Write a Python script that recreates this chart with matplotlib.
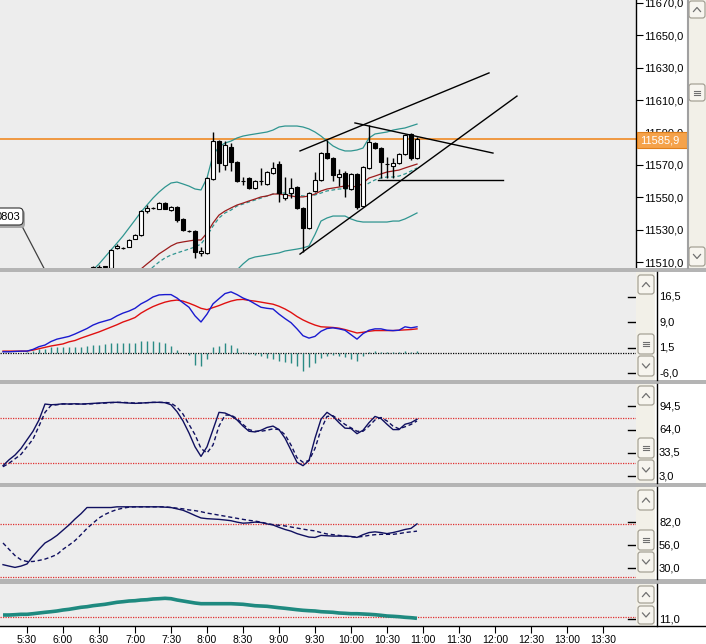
import numpy as np
import matplotlib
matplotlib.use("Agg")
import matplotlib.pyplot as plt
from matplotlib.patches import Rectangle, FancyBboxPatch
from matplotlib.transforms import blended_transform_factory

plt.rcParams["font.family"] = ["Liberation Sans", "DejaVu Sans"]

W, H = 706, 644

# 5-minute bars, minutes after midnight (first bar 5:10, last 10:55)
bar_times = np.arange(310, 656, 5)
candle_times = bar_times[15:]

# candles (6:25 .. 10:55)
opens = np.array([
    11505.7, 11506.0, 11507.0, 11506.3, 11518.7, 11518.7, 11519.3, 11524.2, 11526.7, 11541.5,
    11543.4, 11542.8, 11546.5, 11542.1, 11544.0, 11536.6, 11529.4, 11529.2, 11515.6, 11515.6,
    11561.3, 11584.8, 11570.0, 11581.1, 11571.8, 11560.1, 11561.9, 11555.7, 11560.1, 11558.2,
    11565.0, 11570.6, 11549.5, 11552.6, 11556.4, 11543.4, 11531.0, 11553.9, 11560.7, 11577.3,
    11574.3, 11562.5, 11565.0, 11555.1, 11564.4, 11544.6, 11568.1, 11583.5, 11580.4, 11570.6,
    11569.3, 11571.2, 11576.7, 11589.1, 11574.3])
closes = np.array([
    11506.9, 11507.2, 11507.1, 11517.5, 11520.0, 11518.9, 11523.5, 11526.7, 11541.5, 11543.4,
    11543.5, 11546.5, 11542.8, 11544.0, 11536.0, 11529.8, 11529.2, 11516.2, 11516.9, 11561.9,
    11584.8, 11571.2, 11582.3, 11571.8, 11560.1, 11560.2, 11555.7, 11560.1, 11560.2, 11565.6,
    11568.1, 11552.6, 11552.0, 11555.7, 11543.4, 11531.0, 11552.6, 11560.7, 11577.3, 11574.3,
    11563.8, 11564.4, 11555.7, 11564.4, 11544.0, 11568.7, 11584.1, 11580.4, 11571.8, 11570.5,
    11571.2, 11576.7, 11588.5, 11574.3, 11585.9])
highs = np.array([
    11507.5, 11508.0, 11507.8, 11518.0, 11521.0, 11519.3, 11524.0, 11527.5, 11542.0, 11545.0,
    11544.0, 11547.0, 11547.0, 11544.5, 11544.5, 11537.0, 11529.8, 11529.5, 11519.0, 11562.5,
    11590.3, 11585.4, 11585.0, 11583.5, 11572.5, 11562.5, 11562.5, 11560.7, 11568.1, 11566.2,
    11571.8, 11572.4, 11562.5, 11562.0, 11557.0, 11544.0, 11553.2, 11565.6, 11578.0, 11585.4,
    11575.0, 11567.5, 11566.0, 11565.0, 11565.0, 11569.3, 11594.6, 11584.1, 11581.0, 11574.9,
    11574.0, 11577.5, 11589.1, 11589.5, 11587.5])
lows = np.array([
    11505.0, 11505.0, 11506.0, 11505.5, 11518.0, 11518.2, 11519.0, 11524.0, 11526.0, 11540.5,
    11543.0, 11542.5, 11542.5, 11541.5, 11534.5, 11529.0, 11528.8, 11512.5, 11513.5, 11515.0,
    11560.5, 11565.6, 11567.0, 11566.0, 11559.5, 11557.6, 11555.0, 11555.1, 11557.6, 11557.6,
    11564.5, 11547.1, 11548.0, 11549.5, 11542.8, 11516.2, 11530.4, 11553.0, 11560.0, 11573.6,
    11560.0, 11557.0, 11550.2, 11554.5, 11542.8, 11544.0, 11567.5, 11579.8, 11562.0, 11561.9,
    11562.0, 11570.6, 11576.0, 11573.0, 11573.6])

# Bollinger bands and moving average on the price panel
upper_band = [
    11505.1, 11508.8, 11513.1, 11517.4, 11521.7, 11526.1, 11531.0, 11535.9, 11540.9, 11545.2,
    11549.5, 11553.2, 11556.3, 11558.8, 11559.4, 11558.2, 11556.9, 11555.1, 11554.5, 11561.9,
    11576.1, 11581.1, 11583.5, 11584.7, 11586.6, 11587.8, 11588.5, 11589.1, 11589.7, 11590.3,
    11591.5, 11593.4, 11594.0, 11594.0, 11594.0, 11593.4, 11592.2, 11590.3, 11587.8, 11584.7,
    11581.7, 11579.8, 11578.6, 11578.6, 11579.2, 11580.4, 11586.6, 11589.1, 11589.7, 11590.3,
    11591.5, 11592.2, 11592.8, 11594.0, 11595.2]
lower_band = [
    11501.4, 11505.1, 11508.8, 11511.9, 11513.1, 11513.7, 11514.3, 11515.0, 11515.6, 11516.8,
    11517.4, 11518.0, 11518.7, 11519.9, 11527.0, 11535.3, 11537.2, 11538.4, 11538.4, 11538.4,
    11536.6, 11535.3, 11534.7, 11534.7, 11534.7, 11534.7, 11534.7, 11535.3, 11535.3, 11536.6,
    11538.4, 11540.3]
middle_band = [
    11503.8, 11506.9, 11510.0, 11512.5, 11514.3, 11515.6, 11516.8, 11518.0, 11519.3, 11521.1,
    11526.1, 11532.2, 11537.2, 11540.3, 11542.1, 11544.6, 11545.8, 11547.1, 11548.3, 11549.5,
    11550.8, 11552.0, 11552.6, 11552.6, 11552.0, 11551.4, 11550.8, 11550.8, 11551.4, 11552.6,
    11553.9, 11554.5, 11555.1, 11555.1, 11555.1, 11555.1, 11556.3, 11558.8, 11560.7, 11561.9,
    11562.5, 11562.5, 11563.1, 11564.4, 11566.2, 11568.1]
moving_avg = [
    11502.6, 11505.7, 11508.8, 11511.8, 11515.0, 11517.4, 11519.9, 11521.7, 11522.4, 11523.0,
    11523.6, 11523.6, 11527.9, 11534.1, 11539.0, 11541.5, 11543.4, 11545.2, 11546.4, 11547.7,
    11548.9, 11550.2, 11550.8, 11552.0, 11552.0, 11551.4, 11550.8, 11550.2, 11550.2, 11550.8,
    11552.0, 11553.9, 11555.1, 11555.7, 11556.3, 11557.0, 11557.0, 11556.3, 11558.8, 11561.9,
    11563.1, 11564.4, 11565.6, 11566.2, 11566.8, 11568.1, 11569.3, 11570.5]

last_price = 11585.9

# hand drawn trend lines: (minutes, price) pairs
trend_lines = [
    ((557.5, 11578.6), (715.0, 11626.8)),
    ((557.5, 11514.9), (738.3, 11612.5)),
    ((603.3, 11595.9), (718.3, 11577.3)),
    ((622.5, 11560.7), (726.7, 11560.7)),
]

# MACD
macd_line = [
    0.28, 0.28, 0.38, 0.48, 0.48, 0.99, 1.80, 2.28, 3.32, 4.03,
    4.43, 4.84, 5.55, 6.36, 7.17, 8.19, 8.90, 9.40, 9.91, 10.92,
    11.73, 12.34, 13.15, 14.47, 15.38, 16.50, 17.11, 17.21, 17.21, 16.20,
    14.78, 13.46, 10.92, 9.10, 11.43, 14.47, 16.0, 17.51, 18.02, 17.21,
    16.20, 15.49, 14.47, 13.46, 13.15, 12.95, 11.43, 10.11, 8.90, 7.07,
    5.04, 4.33, 4.84, 6.36, 7.17, 7.37, 7.07, 6.66, 5.35, 4.03,
    5.65, 6.66, 7.07, 7.07, 6.66, 6.56, 6.66, 7.68, 7.37, 7.68]
macd_signal = [
    0.48, 0.48, 0.48, 0.48, 0.48, 0.78, 1.19, 1.59, 2.00, 2.30,
    2.61, 3.22, 3.62, 4.33, 4.94, 5.55, 6.16, 6.87, 7.58, 8.29,
    9.10, 9.71, 10.42, 11.73, 12.75, 13.66, 14.37, 14.98, 15.38, 15.59,
    15.28, 14.67, 13.96, 13.15, 12.75, 13.36, 13.96, 14.67, 15.28, 15.69,
    15.79, 15.49, 15.28, 14.98, 14.67, 14.37, 13.76, 12.95, 11.94, 10.72,
    9.71, 8.89, 8.19, 7.68, 7.58, 7.48, 7.27, 6.87, 6.36, 5.85,
    6.06, 6.36, 6.56, 6.56, 6.56, 6.56, 6.66, 6.77, 6.87, 7.07]
macd_hist = [
    0, 0, 0, 0, 0.27, 0.58, 0.98, 1.19, 1.59, 1.59,
    1.79, 1.79, 1.79, 1.79, 2.0, 2.3, 2.3, 2.6, 3.0, 3.0,
    3.0, 3.0, 3.0, 3.5, 3.5, 3.5, 3.3, 2.8, 2.0, 0.8,
    -0.2, -0.7, -3.6, -3.8, -1.8, 1.6, 2.0, 2.8, 2.3, 1.3,
    0.3, -0.5, -0.7, -1.0, -1.5, -1.8, -2.5, -2.8, -3.1, -3.8,
    -5.3, -4.3, -3.1, -1.5, -1.0, -0.7, -1.0, -1.2, -1.8, -2.3,
    -1.0, 0.3, 0.6, 0.3, 0.1, 0.2, 0.1, 0.6, 0.2, 0.5]

# fast stochastic
stoch_k = [
    16.6, 24.3, 30.6, 39.2, 50.6, 61.9, 76.8, 97.7, 96.8, 97.2,
    98.1, 97.7, 98.1, 97.7, 98.1, 98.6, 99.0, 99.5, 99.9, 100.0,
    99.5, 99.0, 98.6, 99.0, 99.5, 99.9, 100.0, 99.5, 96.8, 87.7,
    75.5, 59.6, 41.5, 28.8, 41.5, 64.1, 86.8, 85.9, 82.3, 76.8,
    68.7, 61.9, 61.0, 63.2, 66.9, 68.7, 64.1, 52.8, 37.0, 21.1,
    16.6, 23.4, 52.8, 77.7, 86.8, 81.4, 73.2, 66.0, 65.5, 58.7,
    63.2, 73.2, 81.4, 78.6, 71.1, 64.1, 64.1, 71.1, 73.2, 77.7]
stoch_d = [
    15.2, 19.8, 25.6, 31.5, 41.5, 51.5, 68.7, 86.8, 95.9, 96.8,
    97.7, 97.7, 97.7, 97.7, 97.7, 98.1, 98.6, 99.0, 99.5, 99.9,
    99.9, 99.5, 99.0, 99.0, 99.5, 99.9, 99.9, 99.9, 99.0, 93.6,
    84.5, 70.9, 57.4, 39.2, 33.3, 43.8, 68.7, 83.2, 83.2, 78.6,
    70.9, 64.1, 61.9, 61.9, 63.2, 65.1, 64.1, 57.4, 43.8, 27.0,
    21.1, 23.4, 39.2, 64.1, 81.4, 82.3, 76.8, 70.9, 66.4, 61.9,
    61.9, 68.7, 76.8, 80.0, 75.5, 68.7, 65.1, 67.8, 70.9, 75.5]

# slow stochastic
slow_k = [
    34.3, 32.7, 31.2, 32.7, 35.1, 43.8, 51.7, 58.8, 62.7, 67.4,
    73.3, 79.2, 85.9, 91.9, 98.9, 98.9, 98.9, 98.9, 98.9, 99.7,
    99.7, 99.7, 99.7, 99.7, 99.7, 99.7, 99.7, 99.3, 98.9, 97.4,
    95.8, 93.0, 89.9, 87.1, 86.3, 85.9, 85.5, 84.8, 84.0, 82.4,
    81.2, 81.6, 82.4, 82.0, 80.4, 79.2, 76.5, 74.1, 72.2, 69.4,
    67.4, 65.5, 65.1, 67.4, 67.0, 66.6, 66.6, 66.6, 66.2, 65.1,
    68.2, 70.6, 71.4, 70.6, 69.4, 70.6, 72.2, 74.1, 75.3, 80.4]
slow_d = [
    58.8, 51.7, 44.6, 39.8, 37.9, 37.9, 39.1, 40.6, 43.0, 45.8,
    51.7, 56.4, 61.5, 68.2, 75.3, 81.2, 87.1, 91.1, 94.2, 96.6,
    98.2, 99.3, 99.7, 99.7, 99.7, 99.7, 99.7, 99.7, 98.9, 98.2,
    97.4, 96.2, 95.4, 94.2, 92.6, 91.5, 90.3, 89.1, 87.9, 86.7,
    85.5, 84.4, 83.6, 82.4, 80.8, 79.6, 78.8, 78.1, 76.9, 75.7,
    74.5, 73.3, 72.5, 70.6, 69.0, 68.2, 67.4, 66.6, 65.8, 65.5,
    66.2, 67.4, 68.2, 68.6, 68.6, 68.6, 69.4, 70.6, 71.4, 72.2]

# trend strength line (bottom panel)
adx = [
    15.0, 15.0, 15.3, 15.7, 15.7, 16.3, 17.0, 17.7, 18.3, 19.0,
    20.0, 20.7, 21.7, 22.7, 23.3, 24.3, 25.0, 25.7, 26.7, 27.7,
    28.3, 29.0, 29.3, 30.0, 30.3, 31.0, 31.3, 31.7, 31.3, 30.0,
    29.0, 28.0, 27.0, 26.3, 26.3, 26.3, 26.3, 26.3, 26.3, 26.0,
    25.7, 25.0, 24.3, 24.0, 23.7, 23.0, 22.3, 21.7, 21.0, 20.3,
    19.7, 19.3, 19.0, 18.3, 18.0, 17.7, 17.0, 16.7, 16.3, 16.3,
    16.0, 15.7, 15.3, 14.7, 14.0, 13.7, 13.3, 12.7, 12.3, 11.7]

time_ticks = np.arange(330, 811, 30)
main_ticks = np.arange(11510, 11671, 20)

BG = "#ededed"
TEAL = "#2f9590"
NAVY = "#101060"


def frac(x0, y0, x1, y1):
    return [x0 / W, 1 - y1 / H, (x1 - x0) / W, (y1 - y0) / H]


def comma(v):
    return f"{v:.1f}".replace(".", ",")


fig = plt.figure(figsize=(W / 100, H / 100), dpi=100, facecolor="white")
xlim = (307.5, 837.5)

# ---- price panel ----
ax = fig.add_axes(frac(0, 0, 636, 268))
ax.set_facecolor(BG)
ax.set_xlim(*xlim)
ax.set_ylim(11506.3, 11671.85)
for s in ["top", "left", "bottom"]:
    ax.spines[s].set_visible(False)
ax.spines["right"].set_linewidth(1)
ax.set_xticks([])
ax.yaxis.tick_right()
ax.set_yticks(main_ticks)
ax.set_yticklabels([comma(v) for v in main_ticks])
ax.tick_params(axis="y", direction="out", length=5, width=0.8, pad=1, labelsize=8)

ax.axhline(last_price, color="#f08a24", lw=1.2, zorder=2)
ax.plot(bar_times[15:], upper_band, color=TEAL, lw=0.9, zorder=2)
ax.plot(bar_times[38:], lower_band, color=TEAL, lw=0.9, zorder=2)
ax.plot(bar_times[24:], middle_band, color=TEAL, lw=0.9, ls=(0, (3, 2)), zorder=2)
ax.plot(bar_times[22:], moving_avg, color="#9b1c1c", lw=0.9, zorder=2)

up = closes >= opens
ax.vlines(candle_times, lows, highs, color="black", lw=1, zorder=3)
ax.bar(candle_times, np.maximum(np.abs(closes - opens), 0.25),
       bottom=np.minimum(opens, closes), width=3.8,
       color=np.where(up, "white", "black"), edgecolor="black",
       linewidth=0.8, zorder=4)

for (t0, p0), (t1, p1) in trend_lines:
    ax.plot([t0, t1], [p0, p1], color="black", lw=1, zorder=5)

# pointer of the callout label at the left edge
ax.plot([325.8, 358.0], [11532.2, 11486.5], color="#404040", lw=0.9, zorder=5)


# ---- indicator panels ----
def sub_panel(top, bottom, ylim, ticks):
    a = fig.add_axes(frac(0, top, 636, bottom))
    a.set_facecolor(BG)
    a.set_xlim(*xlim)
    a.set_ylim(*ylim)
    for s in a.spines.values():
        s.set_visible(False)
    a.set_xticks([])
    a.set_yticks([])
    bt = blended_transform_factory(a.transAxes, a.transData)
    for v in ticks:
        a.plot([628 / 636, 1], [v, v], color="black", lw=1, transform=bt, clip_on=False)
        a.text(659 / 636, v, comma(v), fontsize=8, ha="left", va="center",
               transform=bt, clip_on=False)
    return a


ax1 = sub_panel(272, 380, (-8.07, 23.9), [16.5, 9.0, 1.5, -6.0])
ax1.axhline(0, color="black", lw=0.9, ls=(0, (1, 1)))
ax1.vlines(bar_times, 0, macd_hist, color="#2a8a84", lw=1)
ax1.plot(bar_times, macd_signal, color="#e01010", lw=1)
ax1.plot(bar_times, macd_line, color="#1a1ad0", lw=1)

ax2 = sub_panel(384, 483, (-6.2, 124.1), [94.5, 64.0, 33.5, 3.0])
for lvl in (80, 20):
    ax2.axhline(lvl, color="#e03030", lw=0.9, ls=(0, (1, 1)))
ax2.plot(bar_times, stoch_k, color=NAVY, lw=1)
ax2.plot(bar_times, stoch_d, color=NAVY, lw=1, ls=(0, (3, 2)))

ax3 = sub_panel(487, 579, (18.1, 122.1), [82.0, 56.0, 30.0])
for lvl in (80, 20):
    ax3.axhline(lvl, color="#e03030", lw=0.9, ls=(0, (1, 1)))
ax3.plot(bar_times, slow_k, color=NAVY, lw=1)
ax3.plot(bar_times, slow_d, color=NAVY, lw=1, ls=(0, (3, 2)))

ax4 = sub_panel(584, 626, (4, 46), [11.0])
ax4.axhline(13, color="#e03030", lw=0.9, ls=(0, (1, 1)))
ax4.plot(bar_times, adx, color="#1f8a80", lw=2.6, solid_capstyle="butt")
ax4.set_xticks(time_ticks)
ax4.set_xticklabels([f"{t // 60}:{t % 60:02d}" for t in time_ticks])
ax4.tick_params(axis="x", direction="out", length=5, width=0.8, pad=1.5, labelsize=7.5)

# ---- window chrome (pixel coordinates) ----
ov = fig.add_axes([0, 0, 1, 1], zorder=20)
ov.set_xlim(0, W)
ov.set_ylim(H, 0)
ov.axis("off")
ov.patch.set_alpha(0)

for y0, y1 in [(268, 272), (380, 384), (483, 487), (579, 584)]:
    ov.add_patch(Rectangle((0, y0), W, y1 - y0, fc="#b4b4b4", ec="none"))
ov.plot([0, W], [626, 626], color="black", lw=1)
for y0, y1 in [(272, 380), (384, 483), (487, 579), (584, 626)]:
    ov.plot([657, 657], [y0, y1], color="black", lw=1)

# callout box "…0803" cut by the left edge
ov.add_patch(FancyBboxPatch((-8, 210), 33, 18, boxstyle="round,pad=0,rounding_size=4",
                            fc="#a8a8a8", ec="none"))
ov.add_patch(FancyBboxPatch((-10, 208), 33, 17, boxstyle="round,pad=0,rounding_size=4",
                            fc="white", ec="#303030", lw=0.8))
ov.text(20, 216.5, "0803", ha="right", va="center", fontsize=8)

# last price marker on the scale
ov.add_patch(Rectangle((637, 132), 50, 16, fc="#f5a24a", ec="#e07f1a", lw=0.8))
ov.text(640, 140, comma(last_price), color="white", fontsize=8, ha="left", va="center")


def button(x0, x1, y0, y1, kind):
    ov.add_patch(FancyBboxPatch((x0, y0), x1 - x0, y1 - y0,
                                boxstyle="round,pad=0,rounding_size=2.5",
                                fc="#f7f5ef", ec="#9c988c", lw=0.8))
    cx, cy = (x0 + x1) / 2, (y0 + y1) / 2
    if kind == "up":
        ov.plot([cx - 3.5, cx, cx + 3.5], [cy + 2, cy - 2, cy + 2], color="#707070", lw=0.9)
    elif kind == "down":
        ov.plot([cx - 3.5, cx, cx + 3.5], [cy - 2, cy + 2, cy - 2], color="#707070", lw=0.9)
    else:
        for dy in (-2, 0, 2):
            ov.plot([cx - 3, cx + 3], [cy + dy, cy + dy], color="#707070", lw=0.8)


# main scrollbar
ov.add_patch(Rectangle((687, 0), 19, 268, fc="#f2f0e8", ec="none"))
ov.plot([687.5, 687.5], [0, 268], color="#a0a0a0", lw=1.5)
button(689, 705, 1, 18, "up")
button(689, 705, 84, 101, "mid")
button(689, 705, 247, 266, "down")

# panel scrollbars
bars = [
    (272, 380, [(275, 294, "up"), (334, 354, "mid"), (356, 376, "down")]),
    (384, 483, [(386, 405, "up"), (438, 458, "mid"), (460, 480, "down")]),
    (487, 579, [(490, 510, "up"), (530, 550, "mid"), (552, 572, "down")]),
    (584, 626, [(586, 603, "up"), (606, 624, "down")]),
]
for y0, y1, btns in bars:
    ov.add_patch(Rectangle((636, y0), 19, y1 - y0, fc="#f2f0e8", ec="none"))
    for b0, b1, kind in btns:
        button(638, 654, b0, b1, kind)

fig.savefig("out.png", dpi=100, facecolor="white")
